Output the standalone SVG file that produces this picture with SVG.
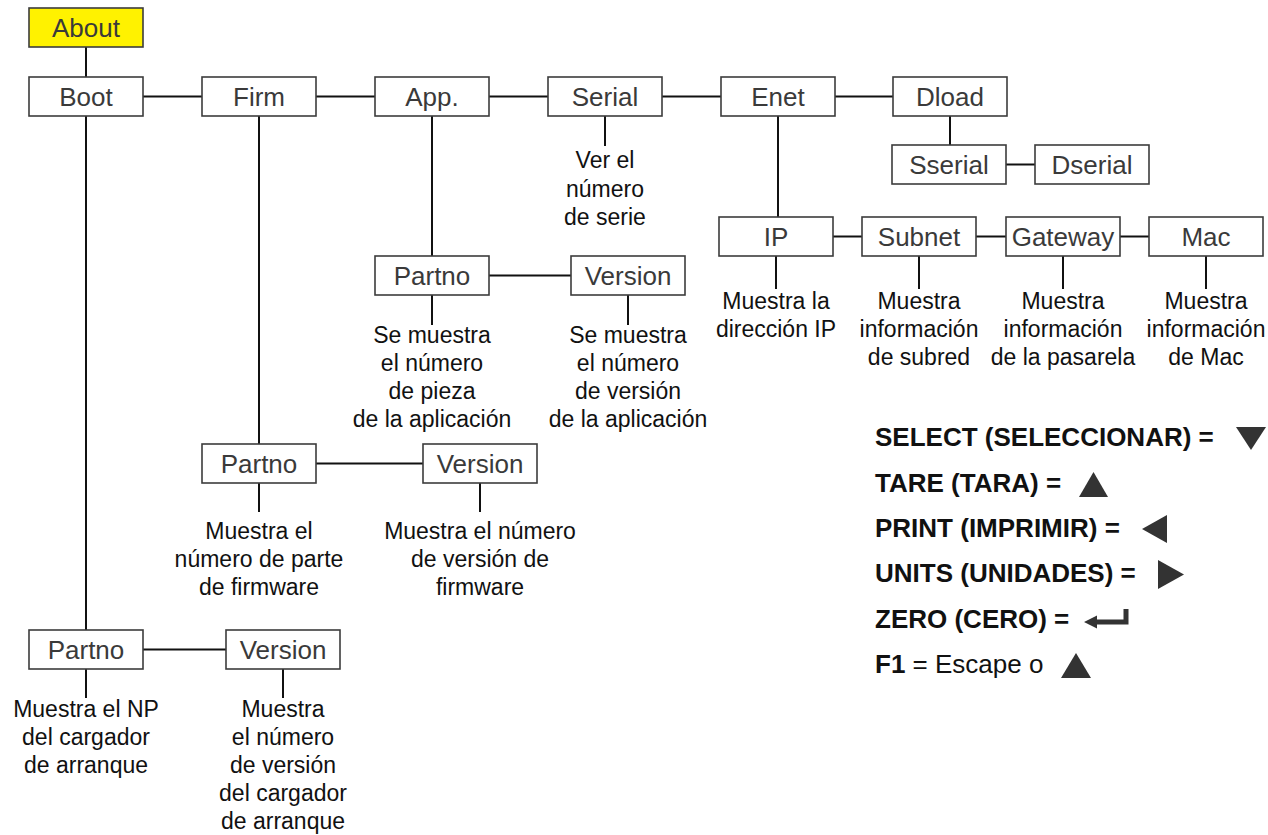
<svg xmlns="http://www.w3.org/2000/svg" width="1268" height="835" viewBox="0 0 1268 835">
<style>
.box{fill:#fff;stroke:#3c3c3c;stroke-width:1.6}
.yel{fill:#fff200}
.lbl{font-family:"Liberation Sans",Arial,sans-serif;font-size:26px;fill:#3a3a3a;text-anchor:middle}
.dsc{font-family:"Liberation Sans",Arial,sans-serif;font-size:23px;fill:#111;text-anchor:middle}
.leg{font-family:"Liberation Sans",Arial,sans-serif;font-size:26px;fill:#111}
.b{font-weight:bold}
.con line{stroke:#111;stroke-width:2}
.sym{fill:#333}
</style>
<rect width="1268" height="835" fill="#fff"/>
<g class="con" id="connectors">
<line x1="86" y1="47" x2="86" y2="77"/>
<line x1="143" y1="96.5" x2="202" y2="96.5"/>
<line x1="316" y1="96.5" x2="375" y2="96.5"/>
<line x1="489" y1="96.5" x2="548" y2="96.5"/>
<line x1="662" y1="96.5" x2="721" y2="96.5"/>
<line x1="835" y1="96.5" x2="893" y2="96.5"/>
<line x1="86" y1="116" x2="86" y2="630"/>
<line x1="259" y1="116" x2="259" y2="444"/>
<line x1="432" y1="116" x2="432" y2="256"/>
<line x1="605" y1="116" x2="605" y2="146"/>
<line x1="778" y1="116" x2="778" y2="217"/>
<line x1="950" y1="116" x2="950" y2="145"/>
<line x1="1006" y1="164.5" x2="1035" y2="164.5"/>
<line x1="833" y1="236.5" x2="862" y2="236.5"/>
<line x1="976" y1="236.5" x2="1006" y2="236.5"/>
<line x1="1120" y1="236.5" x2="1149" y2="236.5"/>
<line x1="776" y1="256" x2="776" y2="289"/>
<line x1="919" y1="256" x2="919" y2="289"/>
<line x1="1063" y1="256" x2="1063" y2="289"/>
<line x1="1206" y1="256" x2="1206" y2="289"/>
<line x1="489" y1="275.5" x2="571" y2="275.5"/>
<line x1="432" y1="295" x2="432" y2="325"/>
<line x1="628" y1="295" x2="628" y2="325"/>
<line x1="316" y1="463.5" x2="423" y2="463.5"/>
<line x1="259" y1="483" x2="259" y2="512"/>
<line x1="480" y1="483" x2="480" y2="512"/>
<line x1="143" y1="649.5" x2="226" y2="649.5"/>
<line x1="86" y1="669" x2="86" y2="698"/>
<line x1="283" y1="669" x2="283" y2="698"/>
</g>
<g id="about"><rect class="box yel" x="29" y="8" width="114" height="39"/><text class="lbl" x="86" y="36.5">About</text></g>
<g id="boot"><rect class="box" x="29" y="77" width="114" height="39"/><text class="lbl" x="86" y="105.5">Boot</text></g>
<g id="firm"><rect class="box" x="202" y="77" width="114" height="39"/><text class="lbl" x="259" y="105.5">Firm</text></g>
<g id="app"><rect class="box" x="375" y="77" width="114" height="39"/><text class="lbl" x="432" y="105.5">App.</text></g>
<g id="serial"><rect class="box" x="548" y="77" width="114" height="39"/><text class="lbl" x="605" y="105.5">Serial</text>
<text class="dsc" x="605" y="168">Ver el</text><text class="dsc" x="605" y="196.5">número</text><text class="dsc" x="605" y="225">de serie</text></g>
<g id="enet"><rect class="box" x="721" y="77" width="114" height="39"/><text class="lbl" x="778" y="105.5">Enet</text></g>
<g id="dload"><rect class="box" x="893" y="77" width="114" height="39"/><text class="lbl" x="950" y="105.5">Dload</text></g>
<g id="sserial"><rect class="box" x="892" y="145" width="114" height="39"/><text class="lbl" x="949" y="173.5">Sserial</text></g>
<g id="dserial"><rect class="box" x="1035" y="145" width="114" height="39"/><text class="lbl" x="1092" y="173.5">Dserial</text></g>
<g id="ip"><rect class="box" x="719" y="217" width="114" height="39"/><text class="lbl" x="776" y="245.5">IP</text>
<text class="dsc" x="776" y="309">Muestra la</text><text class="dsc" x="776" y="337">dirección IP</text></g>
<g id="subnet"><rect class="box" x="862" y="217" width="114" height="39"/><text class="lbl" x="919" y="245.5">Subnet</text>
<text class="dsc" x="919" y="309">Muestra</text><text class="dsc" x="919" y="337">información</text><text class="dsc" x="919" y="365">de subred</text></g>
<g id="gateway"><rect class="box" x="1006" y="217" width="114" height="39"/><text class="lbl" x="1063" y="245.5">Gateway</text>
<text class="dsc" x="1063" y="309">Muestra</text><text class="dsc" x="1063" y="337">información</text><text class="dsc" x="1063" y="365">de la pasarela</text></g>
<g id="mac"><rect class="box" x="1149" y="217" width="114" height="39"/><text class="lbl" x="1206" y="245.5">Mac</text>
<text class="dsc" x="1206" y="309">Muestra</text><text class="dsc" x="1206" y="337">información</text><text class="dsc" x="1206" y="365">de Mac</text></g>
<g id="app_partno"><rect class="box" x="375" y="256" width="114" height="39"/><text class="lbl" x="432" y="284.5">Partno</text>
<text class="dsc" x="432" y="343">Se muestra</text><text class="dsc" x="432" y="371">el número</text><text class="dsc" x="432" y="399">de pieza</text><text class="dsc" x="432" y="427">de la aplicación</text></g>
<g id="app_version"><rect class="box" x="571" y="256" width="114" height="39"/><text class="lbl" x="628" y="284.5">Version</text>
<text class="dsc" x="628" y="343">Se muestra</text><text class="dsc" x="628" y="371">el número</text><text class="dsc" x="628" y="399">de versión</text><text class="dsc" x="628" y="427">de la aplicación</text></g>
<g id="firm_partno"><rect class="box" x="202" y="444" width="114" height="39"/><text class="lbl" x="259" y="472.5">Partno</text>
<text class="dsc" x="259" y="539">Muestra el</text><text class="dsc" x="259" y="567">número de parte</text><text class="dsc" x="259" y="595">de firmware</text></g>
<g id="firm_version"><rect class="box" x="423" y="444" width="114" height="39"/><text class="lbl" x="480" y="472.5">Version</text>
<text class="dsc" x="480" y="539">Muestra el número</text><text class="dsc" x="480" y="567">de versión de</text><text class="dsc" x="480" y="595">firmware</text></g>
<g id="boot_partno"><rect class="box" x="29" y="630" width="114" height="39"/><text class="lbl" x="86" y="658.5">Partno</text>
<text class="dsc" x="86" y="717">Muestra el NP</text><text class="dsc" x="86" y="745">del cargador</text><text class="dsc" x="86" y="773">de arranque</text></g>
<g id="boot_version"><rect class="box" x="226" y="630" width="114" height="39"/><text class="lbl" x="283" y="658.5">Version</text>
<text class="dsc" x="283" y="717">Muestra</text><text class="dsc" x="283" y="745">el número</text><text class="dsc" x="283" y="773">de versión</text><text class="dsc" x="283" y="801">del cargador</text><text class="dsc" x="283" y="829">de arranque</text></g>
<g id="legend">
<text class="leg b" x="875" y="446">SELECT (SELECCIONAR) =</text>
<polygon class="sym" points="1236,427 1266,427 1251,450"/>
<text class="leg b" x="875" y="491.5">TARE (TARA) =</text>
<polygon class="sym" points="1079,497 1108,497 1093.5,472"/>
<text class="leg b" x="875" y="537">PRINT (IMPRIMIR) =</text>
<polygon class="sym" points="1167,515 1167,543 1142,529"/>
<text class="leg b" x="875" y="582">UNITS (UNIDADES) =</text>
<polygon class="sym" points="1158,560 1158,589 1184,574.5"/>
<text class="leg b" x="875" y="628">ZERO (CERO) =</text>
<polygon class="sym" points="1084,622 1097,615.5 1097,619.5 1123.5,619.5 1123.5,609 1128.5,609 1128.5,624.5 1097,624.5 1097,628.5"/>
<text class="leg" x="875" y="673"><tspan class="b">F1</tspan> = Escape o</text>
<polygon class="sym" points="1061,678 1091,678 1076,653"/>
</g>
</svg>
